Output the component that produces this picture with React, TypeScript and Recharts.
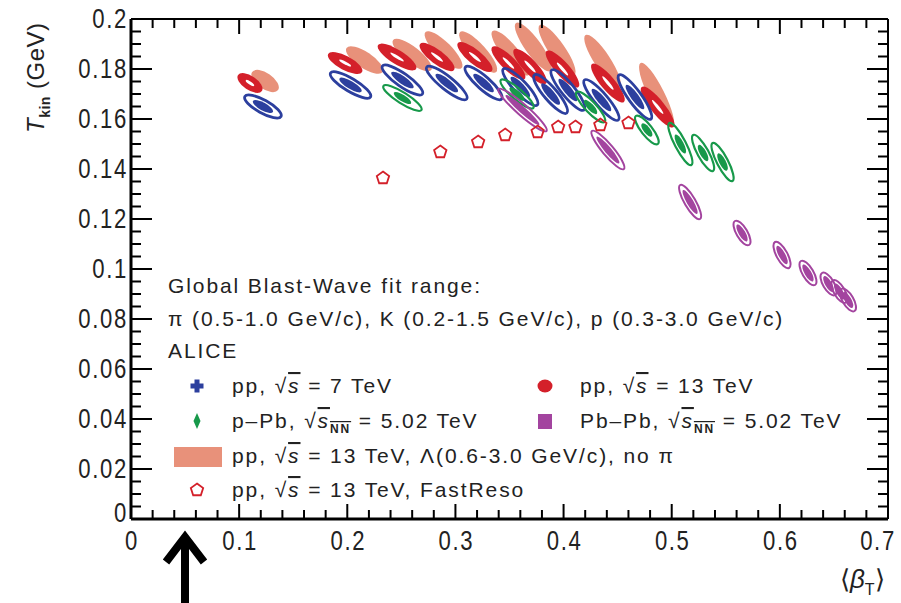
import React from 'react';
import { ComposedChart, Scatter, XAxis, YAxis } from 'recharts';

// plot frame in page pixels
const W = 901;
const H = 603;
const PLOT = { left: 131, right: 888, top: 19, bottom: 519 };
const X_MAX = 0.7;
const Y_MAX = 0.2;
const PX_X = (PLOT.right - PLOT.left) / X_MAX;
const PX_Y = (PLOT.bottom - PLOT.top) / Y_MAX;

const BLUE = '#2c3f9e';
const RED = '#d4202a';
const SALMON = '#e8917a';
const GREEN = '#17994a';
const PURPLE = '#a3449f';
const FONT = "'Liberation Sans', Arial, Helvetica, sans-serif";

// pp, sqrt(s) = 7 TeV
const pp7Beta = [0.122, 0.203, 0.251, 0.292, 0.326, 0.360, 0.388, 0.404, 0.435, 0.466];
const pp7T = [0.165, 0.1736, 0.1756, 0.1744, 0.1744, 0.1728, 0.1700, 0.1716, 0.1676, 0.1688];
const pp7dB = [0.0167, 0.0185, 0.0185, 0.0185, 0.0167, 0.0157, 0.0150, 0.0150, 0.0157, 0.0148];
const pp7dT = [0.0040, 0.0048, 0.0056, 0.0064, 0.0064, 0.0072, 0.0076, 0.0080, 0.0080, 0.0088];

// pp, sqrt(s) = 13 TeV
const pp13Beta = [0.110, 0.198, 0.246, 0.283, 0.318, 0.349, 0.369, 0.399, 0.441, 0.487];
const pp13T = [0.1744, 0.1824, 0.1848, 0.1848, 0.1848, 0.1824, 0.1810, 0.1800, 0.1744, 0.1648];
const pp13dB = [0.0110, 0.0157, 0.0176, 0.0157, 0.0157, 0.0150, 0.0148, 0.0148, 0.0148, 0.0148];
const pp13dT = [0.0032, 0.0036, 0.0048, 0.0052, 0.0056, 0.0064, 0.0068, 0.0072, 0.0076, 0.0080];

// pp 13 TeV with Lambda, no pions
const lamBeta = [0.124, 0.216, 0.260, 0.289, 0.321, 0.351, 0.372, 0.394, 0.436, 0.486];
const lamT = [0.1752, 0.1836, 0.1856, 0.1876, 0.1868, 0.1864, 0.1888, 0.1876, 0.1832, 0.1696];
const lamdB = [0.0120, 0.0167, 0.0176, 0.0167, 0.0167, 0.0167, 0.0160, 0.0160, 0.0157, 0.0148];
const lamdT = [0.0036, 0.0048, 0.0060, 0.0072, 0.0080, 0.0088, 0.0096, 0.0100, 0.0104, 0.0128];

// p-Pb 5.02 TeV
const pPbBeta = [0.251, 0.357, 0.425, 0.477, 0.508, 0.529, 0.547];
const pPbT = [0.1684, 0.1700, 0.1648, 0.1556, 0.1500, 0.1464, 0.1428];
const pPbdB = [0.0176, 0.0150, 0.0130, 0.0102, 0.0102, 0.0092, 0.0092];
const pPbdT = [0.0048, 0.0056, 0.0060, 0.0056, 0.0084, 0.0072, 0.0076];

// Pb-Pb 5.02 TeV
const PbPbBeta = [0.362, 0.441, 0.517, 0.565, 0.602, 0.626, 0.645, 0.655, 0.663];
const PbPbT = [0.1636, 0.1476, 0.1268, 0.1144, 0.1056, 0.0984, 0.0940, 0.0910, 0.0876];
const PbPbdB = [0.0222, 0.0148, 0.0092, 0.0065, 0.0065, 0.0065, 0.0060, 0.0060, 0.0060];
const PbPbdT = [0.0084, 0.0076, 0.0068, 0.0048, 0.0052, 0.0048, 0.0044, 0.0044, 0.0044];

// pp 13 TeV FastReso
const frBeta = [0.233, 0.286, 0.321, 0.346, 0.376, 0.395, 0.411, 0.434, 0.460];
const frT = [0.1364, 0.1468, 0.1508, 0.1536, 0.1548, 0.1568, 0.1568, 0.1576, 0.1584];

const xMajor = [0, 0.1, 0.2, 0.3, 0.4, 0.5, 0.6, 0.7];
const yMajor = [0, 0.02, 0.04, 0.06, 0.08, 0.1, 0.12, 0.14, 0.16, 0.18, 0.2];

const r3 = (v: number) => Math.round(v * 1000) / 1000;
const xTicks: number[] = [];
for (let i = 0; i <= 35; i++) xTicks.push(r3(i * 0.02));
const yTicks: number[] = [];
for (let i = 0; i <= 40; i++) yTicks.push(r3(i * 0.005));
const isMajor = (list: number[], v: number) => list.some((m) => Math.abs(m - v) < 1e-6);
const fmt = (v: number) => String(r3(v));

const build = (b: number[], t: number[], db?: number[], dt?: number[]) =>
  b.map((v, i) => ({ beta: v, T: t[i], db: db ? db[i] : 0, dt: dt ? dt[i] : 0 }));

const pp7Data = build(pp7Beta, pp7T, pp7dB, pp7dT);
const pp13Data = build(pp13Beta, pp13T, pp13dB, pp13dT);
const lamData = build(lamBeta, lamT, lamdB, lamdT);
const pPbData = build(pPbBeta, pPbT, pPbdB, pPbdT);
const PbPbData = build(PbPbBeta, PbPbT, PbPbdB, PbPbdT);
const frData = build(frBeta, frT);

const geom = (p: any) => {
  const vx = p.payload.db * PX_X;
  const vy = p.payload.dt * PX_Y;
  return {
    t: `translate(${p.cx},${p.cy}) rotate(${(Math.atan2(vy, vx) * 180) / Math.PI})`,
    r: Math.hypot(vx, vy),
  };
};

const SalmonShape = (p: any) => {
  if (p.cx == null) return null;
  const g = geom(p);
  return <ellipse transform={g.t} rx={g.r} ry={8} fill={SALMON} />;
};

const RedShape = (p: any) => {
  if (p.cx == null) return null;
  const g = geom(p);
  return (
    <g transform={g.t}>
      <ellipse rx={g.r} ry={7} fill={RED} />
      <ellipse rx={g.r * 0.35} ry={1.5} fill="#fff" />
    </g>
  );
};

const OutlineShape = (color: string, minor: number, inner: number, sw: number) => (p: any) => {
  if (p.cx == null) return null;
  const g = geom(p);
  return (
    <g transform={g.t}>
      <ellipse rx={g.r} ry={minor} fill="none" stroke={color} strokeWidth={sw} />
      <ellipse rx={g.r * inner} ry={minor * 0.6} fill={color} />
    </g>
  );
};

const pentagon = (cx: number, cy: number, r: number) =>
  [0, 1, 2, 3, 4]
    .map((k) => {
      const a = (-90 + k * 72) * (Math.PI / 180);
      return `${cx + r * Math.cos(a)},${cy + r * Math.sin(a)}`;
    })
    .join(' ');

const FastResoShape = (p: any) => {
  if (p.cx == null) return null;
  return <polygon points={pentagon(p.cx, p.cy, 6.5)} fill="none" stroke={RED} strokeWidth={1.8} />;
};

const TickText = ({ x, y, anchor, children }: any) => (
  <g transform={`translate(${x},${y}) scale(0.82,1)`}>
    <text textAnchor={anchor} dominantBaseline="central" fontSize={27} fontFamily={FONT} letterSpacing={2} fill="#222">
      {children}
    </text>
  </g>
);

const BottomTick = (p: any) => {
  const v = p.payload.value;
  const major = isMajor(xMajor, v);
  return (
    <g>
      <line x1={p.x} x2={p.x} y1={p.y} y2={p.y - (major ? 15 : 9)} stroke="#000" strokeWidth={2} />
      {major && <TickText x={v === X_MAX ? p.x - 10 : p.x + 1} y={p.y + 22} anchor="middle">{fmt(v)}</TickText>}
    </g>
  );
};

const TopTick = (p: any) => {
  const major = isMajor(xMajor, p.payload.value);
  return <line x1={p.x} x2={p.x} y1={p.y} y2={p.y + (major ? 15 : 9)} stroke="#000" strokeWidth={2} />;
};

const LeftTick = (p: any) => {
  const v = p.payload.value;
  const major = isMajor(yMajor, v);
  return (
    <g>
      <line x1={p.x} x2={p.x + (major ? 21 : 10)} y1={p.y} y2={p.y} stroke="#000" strokeWidth={2} />
      {major && <TickText x={p.x - 3} y={v === 0 ? p.y - 6 : p.y} anchor="end">{fmt(v)}</TickText>}
    </g>
  );
};

const RightTick = (p: any) => {
  const major = isMajor(yMajor, p.payload.value);
  return <line x1={p.x} x2={p.x - (major ? 21 : 10)} y1={p.y} y2={p.y} stroke="#000" strokeWidth={2} />;
};

const Sqrt = ({ nn }: { nn?: boolean }) => (
  <>
    <tspan>√</tspan>
    <tspan fontStyle="italic" style={{ textDecoration: 'overline' }}>
      s
      {nn && (
        <tspan fontSize={12} fontStyle="normal" fontWeight="bold" dy={5}>
          NN
        </tspan>
      )}
    </tspan>
    {nn && <tspan dy={-5}> </tspan>}
  </>
);

const Overlay = () => {
  const txt = { fontSize: 21, fontFamily: FONT, letterSpacing: 1.9, fill: '#222' } as const;
  return (
    <svg width={W} height={H} style={{ position: 'absolute', left: 0, top: 0, pointerEvents: 'none' }}>
      <text transform="translate(44,133) rotate(-90)" fontSize={24} fontFamily={FONT} fill="#222" letterSpacing={0.5}>
        <tspan fontStyle="italic">T</tspan>
        <tspan fontSize={14} fontWeight="bold" dy={6}>kin</tspan>
        <tspan dy={-6}> (GeV)</tspan>
      </text>
      <text x={840} y={588} fontSize={26} fontFamily={FONT} fill="#222">
        ⟨<tspan fontStyle="italic">β</tspan>
        <tspan fontSize={16} dy={7}>T</tspan>
        <tspan dy={-7}>⟩</tspan>
      </text>

      <text x={168} y={293} {...txt}>Global Blast-Wave fit range:</text>
      <text x={168} y={326} {...txt}>π (0.5-1.0 GeV/c), K (0.2-1.5 GeV/c), p (0.3-3.0 GeV/c)</text>
      <text x={168} y={358} {...txt}>ALICE</text>

      {/* legend markers */}
      <path d="M190.5,383.5 h13 v5 h-13 z M194.5,379.5 h5 v13 h-5 z" fill={BLUE} />
      <ellipse cx={545} cy={386} rx={7.5} ry={6.5} fill={RED} />
      <path d="M197,413 L200.5,421 L197,429 L193.5,421 Z" fill={GREEN} />
      <rect x={538} y={414} width={14} height={15} fill={PURPLE} />
      <rect x={174} y={447} width={48} height={20} fill={SALMON} />
      <polygon points={pentagon(197, 490, 6.5)} fill="none" stroke={RED} strokeWidth={1.8} />

      <text x={232} y={393} {...txt}>pp, <Sqrt /> = 7 TeV</text>
      <text x={580} y={393} {...txt}>pp, <Sqrt /> = 13 TeV</text>
      <text x={232} y={428} {...txt}>p–Pb, <Sqrt nn />= 5.02 TeV</text>
      <text x={580} y={428} {...txt}>Pb–Pb, <Sqrt nn />= 5.02 TeV</text>
      <text x={232} y={463} {...txt}>pp, <Sqrt /> = 13 TeV, Λ(0.6-3.0 GeV/c), no π</text>
      <text x={232} y={497} {...txt}>pp, <Sqrt /> = 13 TeV, FastReso</text>

      {/* annotation arrow under the axis */}
      <path d="M185,603 V538 M166,562 L185,537 L204,562" fill="none" stroke="#000" strokeWidth={8} strokeLinejoin="miter" />
    </svg>
  );
};

export default function App() {
  return (
    <div style={{ position: 'absolute', left: 0, top: 0, width: W, height: H, background: '#fff' }}>
      <ComposedChart
        width={W}
        height={H}
        margin={{ top: PLOT.top - 1, right: W - PLOT.right - 1, bottom: H - PLOT.bottom - 30, left: PLOT.left - 60 }}
      >
        <XAxis
          xAxisId="b"
          type="number"
          dataKey="beta"
          domain={[0, X_MAX]}
          allowDataOverflow
          ticks={xTicks}
          interval={0}
          height={30}
          tickSize={0}
          tickMargin={0}
          tick={BottomTick}
          axisLine={{ stroke: '#000', strokeWidth: 3 }}
        />
        <XAxis
          xAxisId="t"
          orientation="top"
          type="number"
          dataKey="beta"
          domain={[0, X_MAX]}
          allowDataOverflow
          ticks={xTicks}
          interval={0}
          height={1}
          tickSize={0}
          tickMargin={0}
          tick={TopTick}
          axisLine={{ stroke: '#000', strokeWidth: 2 }}
        />
        <YAxis
          yAxisId="l"
          type="number"
          dataKey="T"
          domain={[0, Y_MAX]}
          allowDataOverflow
          ticks={yTicks}
          interval={0}
          width={60}
          tickSize={0}
          tickMargin={0}
          tick={LeftTick}
          axisLine={{ stroke: '#000', strokeWidth: 3 }}
        />
        <YAxis
          yAxisId="r"
          orientation="right"
          type="number"
          dataKey="T"
          domain={[0, Y_MAX]}
          allowDataOverflow
          ticks={yTicks}
          interval={0}
          width={1}
          tickSize={0}
          tickMargin={0}
          tick={RightTick}
          axisLine={{ stroke: '#000', strokeWidth: 2 }}
        />
        <Scatter xAxisId="b" yAxisId="l" data={lamData} shape={SalmonShape} isAnimationActive={false} />
        <Scatter xAxisId="b" yAxisId="l" data={pp13Data} shape={RedShape} isAnimationActive={false} />
        <Scatter xAxisId="b" yAxisId="l" data={pp7Data} shape={OutlineShape(BLUE, 6.5, 0.55, 2.8)} isAnimationActive={false} />
        <Scatter xAxisId="b" yAxisId="l" data={pPbData} shape={OutlineShape(GREEN, 5.5, 0.45, 2.2)} isAnimationActive={false} />
        <Scatter xAxisId="b" yAxisId="l" data={PbPbData} shape={OutlineShape(PURPLE, 5.5, 0.7, 2)} isAnimationActive={false} />
        <Scatter xAxisId="b" yAxisId="l" data={frData} shape={FastResoShape} isAnimationActive={false} />
      </ComposedChart>
      <Overlay />
    </div>
  );
}
